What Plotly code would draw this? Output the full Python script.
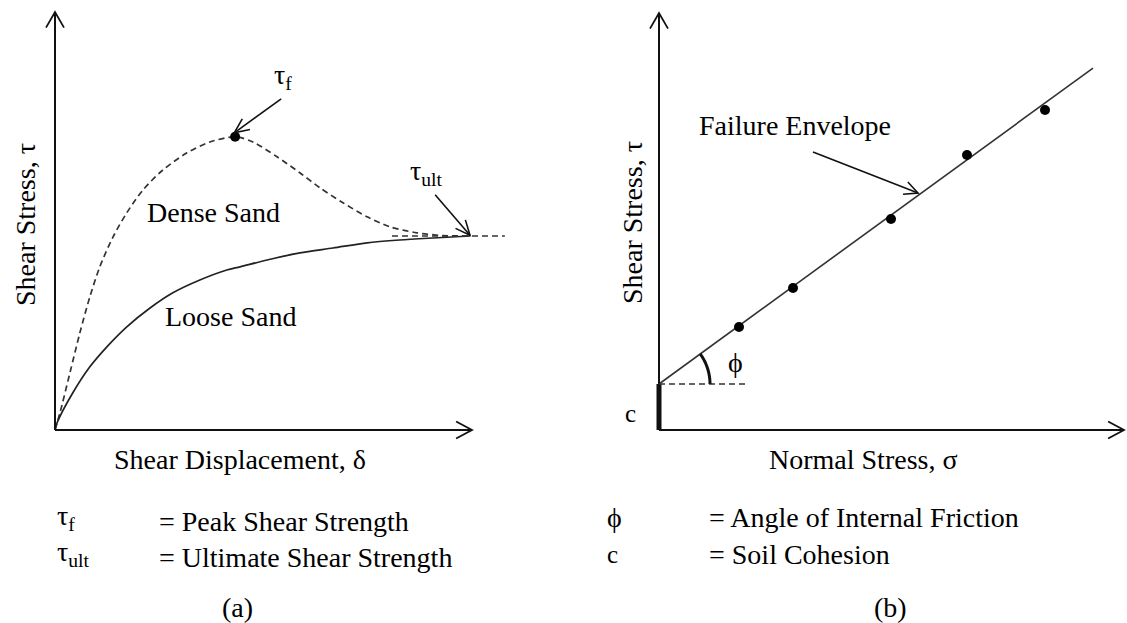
import math
import plotly.graph_objects as go

W, H = 1127, 623
FONT = "Liberation Serif"
FS = 28
INK = "black"

# ---- (a) shear stress vs shear displacement (arbitrary units) ----
disp_dense = [0, 0.12, 0.36, 0.60, 0.84, 1.08, 1.40, 1.73, 2.12, 2.60, 3.18, 3.73, 4.34,
              4.77, 5.35, 5.90, 6.39, 6.94, 7.52, 8.07, 8.72, 9.35, 10.0]
tau_dense = [0, 0.43, 1.43, 2.43, 3.33, 4.08, 4.83, 5.43, 6.00, 6.50, 6.93, 7.20, 7.33,
             7.20, 6.83, 6.43, 6.05, 5.68, 5.33, 5.08, 4.93, 4.86, 4.85]
disp_loose = [0, 0.05, 0.43, 0.84, 1.25, 1.73, 2.29, 2.84, 3.49, 4.14, 4.46,
              5.11, 5.90, 6.70, 7.52, 8.31, 9.11, 10.0]
tau_loose = [0, 0.18, 0.93, 1.58, 2.08, 2.58, 3.05, 3.43, 3.75, 4.00, 4.08,
             4.25, 4.43, 4.55, 4.68, 4.75, 4.80, 4.85]

# ---- (b) Mohr-Coulomb failure envelope (kPa) ----
sigma_tests = [20.0, 33.5, 58.0, 77.0, 96.5]
tau_tests = [25.75, 35.5, 52.75, 68.75, 80.0]
cohesion = 11.5
tan_phi = 0.728
sigma_env_end = 108.5

# pixel scale of each panel (px per data unit) and origin in page pixels
A_SX, A_SY, A_X0, A_Y0 = 41.5, 40.0, 55, 430
B_S, B_X0, B_Y0 = 4.0, 659, 430
SPLIT = 560

fig = go.Figure()

# curves of panel (a)
fig.add_trace(go.Scatter(x=disp_dense, y=tau_dense, mode="lines",
                         line=dict(color="#333333", width=1.7, dash="6px,4px", shape="spline", smoothing=0.8),
                         xaxis="x", yaxis="y", hoverinfo="skip"))
fig.add_trace(go.Scatter(x=disp_loose, y=tau_loose, mode="lines",
                         line=dict(color="#222222", width=1.7, shape="spline", smoothing=0.8),
                         xaxis="x", yaxis="y", hoverinfo="skip"))
i_peak = tau_dense.index(max(tau_dense))
peak_x, peak_y = disp_dense[i_peak], tau_dense[i_peak]
ult_x, ult_y = disp_dense[-1], tau_dense[-1]
fig.add_trace(go.Scatter(x=[peak_x], y=[peak_y], mode="markers",
                         marker=dict(color="black", size=10),
                         xaxis="x", yaxis="y", hoverinfo="skip"))

# envelope and test points of panel (b)
fig.add_trace(go.Scatter(x=[0, sigma_env_end], y=[cohesion, cohesion + tan_phi * sigma_env_end],
                         mode="lines", line=dict(color="#333333", width=1.6),
                         xaxis="x2", yaxis="y2", hoverinfo="skip"))
fig.add_trace(go.Scatter(x=sigma_tests, y=tau_tests, mode="markers",
                         marker=dict(color="black", size=10),
                         xaxis="x2", yaxis="y2", hoverinfo="skip"))

shapes = []


def seg(x0, y0, x1, y1, ref, width=2, color="#111111", dash=None):
    xr, yr = ref
    line = dict(color=color, width=width)
    if dash:
        line["dash"] = dash
    shapes.append(dict(type="line", xref=xr, yref=yr, x0=x0, y0=y0, x1=x1, y1=y1, line=line))


def arrow(x0, y0, x1, y1, ref, sx, sy, length=14, half_deg=26, width=1.6, shaft=True):
    """Line from (x0,y0) to (x1,y1) with an open V head at (x1,y1)."""
    xr, yr = ref
    if shaft:
        seg(x0, y0, x1, y1, ref, width)
    dx, dy = (x1 - x0) * sx, (y1 - y0) * sy
    n = math.hypot(dx, dy)
    ux, uy = dx / n, dy / n
    pts = []
    for s in (1, -1):
        a = math.radians(half_deg) * s
        rx = ux * math.cos(a) - uy * math.sin(a)
        ry = ux * math.sin(a) + uy * math.cos(a)
        pts.append((x1 - length * rx / sx, y1 - length * ry / sy))
    path = f"M{pts[0][0]:.4f},{pts[0][1]:.4f} L{x1:.4f},{y1:.4f} L{pts[1][0]:.4f},{pts[1][1]:.4f}"
    shapes.append(dict(type="path", xref=xr, yref=yr, path=path,
                       line=dict(color="#111111", width=width)))


RA, RB = ("x", "y"), ("x2", "y2")

# axes of panel (a)
a_top = (A_Y0 - 12) / A_SY
a_right = (472 - A_X0) / A_SX
seg(0, 0, 0, a_top, RA, 2)
seg(0, 0, a_right, 0, RA, 2)
arrow(0, 0, 0, a_top, RA, A_SX, A_SY, length=18, half_deg=30, width=1.8, shaft=False)
arrow(0, 0, a_right, 0, RA, A_SX, A_SY, length=18, half_deg=28, width=1.8, shaft=False)

# ultimate-strength asymptote
seg(8.12, ult_y, 10.84, ult_y, RA, 1.5, "#333333", "6px,4px")

# pointer arrows in panel (a)
arrow(5.45, 8.28, peak_x - 0.02, peak_y + 0.1, RA, A_SX, A_SY, length=16, half_deg=24)
arrow(9.16, 5.88, ult_x, ult_y + 0.02, RA, A_SX, A_SY, length=16, half_deg=24)

# axes of panel (b)
b_top = (B_Y0 - 13) / B_S
b_right = (1124 - B_X0) / B_S
seg(0, 0, 0, b_top, RB, 2)
seg(0, 0, b_right, 0, RB, 2)
arrow(0, 0, 0, b_top, RB, B_S, B_S, length=18, half_deg=30, width=1.8, shaft=False)
arrow(0, 0, b_right, 0, RB, B_S, B_S, length=18, half_deg=28, width=1.8, shaft=False)

# cohesion intercept (thick), horizontal reference and friction-angle arc
seg(0, 0, 0, cohesion, RB, 5)
seg(0, cohesion, 21.5, cohesion, RB, 1.4, "#333333", "6px,4px")
phi = math.atan(tan_phi)
r_arc = 12.75
arc = [(r_arc * math.cos(phi * k / 30), cohesion + r_arc * math.sin(phi * k / 30)) for k in range(31)]
shapes.append(dict(type="path", xref="x2", yref="y2",
                   path="M" + " L".join(f"{x:.4f},{y:.4f}" for x, y in arc),
                   line=dict(color="#111111", width=3)))

# pointer to the envelope
arrow(38.5, 69.5, 64.75, 59.25, RB, B_S, B_S, length=15, half_deg=26)


def P(px, py):
    return px / W, 1 - py / H


def Pb(px, py, half_height=17):
    """Paper position for captions in the lower third, which sit on their bottom edge."""
    return P(px, py + half_height)


def text(s, x, y, ref=("paper", "paper"), xanchor="center", angle=None, size=FS):
    kw = dict(text=s, x=x, y=y, xref=ref[0], yref=ref[1], showarrow=False, xanchor=xanchor,
              font=dict(family=FONT, size=size, color=INK))
    if angle is not None:
        kw["textangle"] = angle
    fig.add_annotation(**kw)


# labels inside panel (a)
text("τ<sub>f</sub>", 5.49, 8.85, RA)
text("τ<sub>ult</sub>", 8.96, 6.45, RA)
text("Dense Sand", 3.81, 5.43, RA)
text("Loose Sand", 4.22, 2.83, RA)

# labels inside panel (b)
text("Failure Envelope", 34.0, 76.25, RB)
text("ϕ", 19.0, 17.0, RB)
text("c", -7.25, 4.25, RB, size=25)

# axis titles
text("Shear Stress, τ", *P(25, 225), angle=-90)
text("Shear Displacement, δ", *Pb(240, 460))
text("Shear Stress, τ", *P(632, 223), angle=-90)
text("Normal Stress, σ", *Pb(863, 460))

# symbol keys
text("τ<sub>f</sub>", *Pb(55, 520), xanchor="left")
text("= Peak Shear Strength", *Pb(157, 522), xanchor="left")
text("τ<sub>ult</sub>", *Pb(55, 556), xanchor="left")
text("= Ultimate Shear Strength", *Pb(157, 558), xanchor="left")
text("ϕ", *Pb(605, 518), xanchor="left")
text("= Angle of Internal Friction", *Pb(707, 518), xanchor="left")
text("c", *Pb(605, 555, 15), xanchor="left", size=25)
text("= Soil Cohesion", *Pb(707, 555), xanchor="left")

text("(a)", *Pb(237, 608))
text("(b)", *Pb(890, 608))

hidden = dict(visible=False, showgrid=False, zeroline=False)
fig.update_layout(
    width=W, height=H,
    margin=dict(l=0, r=0, t=0, b=0),
    paper_bgcolor="white", plot_bgcolor="white",
    showlegend=False,
    xaxis=dict(domain=[0, SPLIT / W], range=[-A_X0 / A_SX, (SPLIT - A_X0) / A_SX], **hidden),
    yaxis=dict(domain=[0, 1], range=[(A_Y0 - H) / A_SY, A_Y0 / A_SY], anchor="x", **hidden),
    xaxis2=dict(domain=[SPLIT / W, 1], range=[(SPLIT - B_X0) / B_S, (W - B_X0) / B_S], anchor="y2", **hidden),
    yaxis2=dict(domain=[0, 1], range=[(B_Y0 - H) / B_S, B_Y0 / B_S], anchor="x2", **hidden),
    shapes=shapes,
)

fig.write_html("out.html", config={"displayModeBar": False})
